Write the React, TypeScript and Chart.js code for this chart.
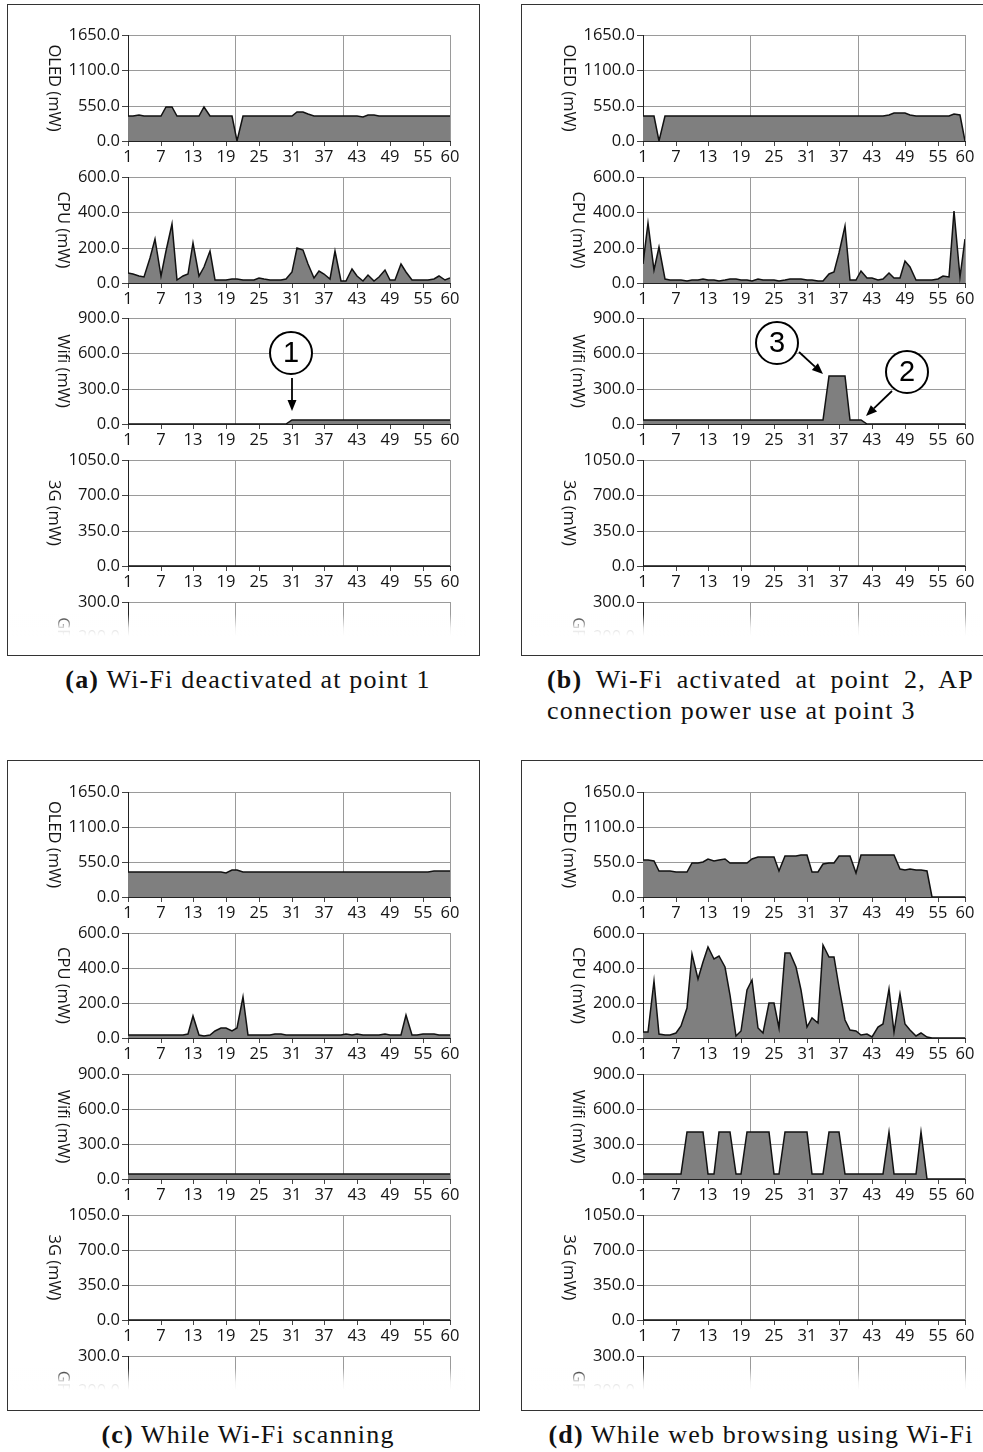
import React, { useEffect, useRef } from 'react';
import { Chart, registerables } from 'chart.js';

Chart.register(...registerables);

// ---------- data ----------
const X_TICKS = [1, 7, 13, 19, 25, 31, 37, 43, 49, 55, 60];
const X_GRID_THIRDS = [1, 2, 3];

const OLED_MAX = 1650;
const CPU_MAX = 600;
const WIFI_MAX = 900;
const G3_MAX = 1050;
const GPS_MAX = 300;

const oledA = [390, 395, 405, 390, 385, 385, 390, 530, 530, 390, 390, 390, 390, 390, 530, 390, 390, 390, 390, 390, 0, 390, 395, 390, 390, 390, 390, 390, 390, 390, 390, 450, 450, 415, 390, 390, 385, 385, 390, 390, 390, 390, 390, 380, 410, 410, 395, 390, 390, 390, 385, 390, 390, 390, 390, 390, 390, 390, 390, 390];
const cpuA = [59, 49, 42, 36, 140, 247, 38, 180, 332, 15, 42, 53, 224, 38, 91, 182, 19, 19, 15, 25, 21, 17, 15, 19, 28, 21, 15, 19, 19, 23, 63, 196, 186, 110, 30, 68, 49, 25, 182, 11, 11, 80, 42, 11, 47, 11, 34, 76, 15, 15, 106, 63, 19, 15, 19, 19, 23, 38, 19, 30];
const wifiA = [0, 0, 0, 0, 0, 0, 0, 0, 0, 0, 0, 0, 0, 0, 0, 0, 0, 0, 0, 0, 0, 0, 0, 0, 0, 0, 0, 0, 0, 0, 38, 38, 38, 38, 38, 38, 38, 38, 38, 38, 38, 38, 38, 38, 38, 38, 38, 38, 38, 38, 38, 38, 38, 38, 38, 38, 38, 38, 38, 38];

const oledB = [390, 390, 390, 0, 390, 390, 390, 390, 390, 390, 390, 390, 390, 390, 390, 390, 390, 390, 390, 390, 390, 390, 390, 390, 390, 390, 390, 390, 390, 390, 390, 390, 390, 385, 390, 390, 390, 388, 390, 388, 390, 390, 390, 392, 395, 400, 437, 437, 437, 400, 390, 388, 390, 390, 390, 390, 390, 420, 410, 0];
const cpuB = [110, 338, 76, 205, 25, 19, 15, 15, 13, 15, 19, 23, 19, 15, 13, 19, 25, 21, 15, 17, 13, 23, 19, 19, 17, 13, 17, 23, 21, 25, 19, 15, 13, 11, 49, 63, 167, 325, 19, 19, 68, 28, 28, 19, 23, 59, 30, 30, 125, 91, 19, 19, 19, 19, 21, 38, 34, 410, 34, 247];
const wifiB = [38, 38, 38, 38, 38, 38, 38, 38, 38, 38, 38, 38, 38, 38, 38, 38, 38, 38, 38, 38, 38, 38, 38, 38, 38, 38, 38, 38, 38, 38, 38, 38, 38, 38, 405, 405, 405, 405, 38, 38, 38, 0, 0, 0, 0, 0, 0, 0, 0, 0, 0, 0, 0, 0, 0, 0, 0, 0, 0, 0];

const oledC = [390, 390, 390, 390, 390, 390, 390, 390, 390, 390, 390, 390, 390, 390, 390, 392, 392, 392, 378, 432, 432, 398, 392, 392, 394, 392, 390, 390, 392, 392, 390, 392, 392, 392, 392, 394, 394, 394, 394, 395, 395, 395, 395, 395, 395, 395, 395, 392, 395, 395, 395, 395, 395, 395, 395, 400, 402, 402, 402, 402];
const cpuC = [19, 17, 20, 19, 18, 20, 17, 19, 18, 20, 19, 23, 123, 17, 9, 17, 38, 55, 59, 38, 55, 237, 17, 19, 17, 19, 19, 21, 25, 19, 17, 17, 19, 17, 17, 19, 17, 17, 17, 17, 25, 19, 21, 19, 19, 19, 19, 23, 19, 17, 17, 132, 19, 19, 21, 21, 23, 19, 17, 15];
const wifiC = [40, 40, 40, 40, 40, 40, 40, 40, 40, 40, 40, 40, 40, 40, 40, 40, 40, 40, 40, 40, 40, 40, 40, 40, 40, 40, 40, 40, 40, 40, 40, 40, 40, 40, 40, 40, 40, 40, 40, 40, 40, 40, 40, 40, 40, 40, 40, 40, 40, 40, 40, 40, 40, 40, 40, 40, 40, 40, 40, 40];

const oledD = [576, 576, 571, 409, 409, 409, 398, 398, 398, 540, 540, 550, 597, 566, 576, 597, 529, 529, 529, 529, 597, 634, 634, 634, 634, 403, 650, 650, 645, 665, 665, 388, 388, 524, 534, 534, 645, 645, 645, 377, 655, 655, 655, 655, 655, 655, 660, 440, 430, 445, 424, 424, 403, 0, 0, 0, 0, 0, 0, 0];
const cpuD = [34, 34, 327, 23, 19, 19, 28, 66, 170, 479, 337, 435, 520, 454, 468, 407, 246, 13, 38, 274, 331, 57, 28, 199, 199, 55, 483, 486, 407, 274, 62, 114, 85, 530, 464, 464, 293, 104, 47, 42, 19, 25, 6, 61, 78, 278, 32, 250, 81, 47, 13, 28, 6, 0, 0, 0, 0, 0, 0, 0];
const wifiD = [40, 40, 40, 40, 40, 40, 40, 40, 405, 405, 405, 405, 40, 40, 405, 405, 405, 40, 40, 405, 405, 405, 405, 405, 40, 40, 405, 405, 405, 405, 405, 40, 40, 40, 405, 405, 405, 40, 40, 40, 40, 40, 40, 40, 40, 405, 40, 40, 40, 40, 40, 405, 0, 0, 0, 0, 0, 0, 0, 0];

const g3All = [0, 0, 0, 0, 0, 0, 0, 0, 0, 0, 0, 0, 0, 0, 0, 0, 0, 0, 0, 0, 0, 0, 0, 0, 0, 0, 0, 0, 0, 0, 0, 0, 0, 0, 0, 0, 0, 0, 0, 0, 0, 0, 0, 0, 0, 0, 0, 0, 0, 0, 0, 0, 0, 0, 0, 0, 0, 0, 0, 0];
const gpsAll = [0, 0, 0, 0, 0, 0, 0, 0, 0, 0, 0, 0, 0, 0, 0, 0, 0, 0, 0, 0, 0, 0, 0, 0, 0, 0, 0, 0, 0, 0, 0, 0, 0, 0, 0, 0, 0, 0, 0, 0, 0, 0, 0, 0, 0, 0, 0, 0, 0, 0, 0, 0, 0, 0, 0, 0, 0, 0, 0, 0];

// annotations (data units of the Wi-Fi charts)
const annA = [
  { type: 'circle', x: 30.8, y: 603, label: '1' },
  { type: 'arrow', x1: 31, y1: 390, x2: 31, y2: 107 },
];
const annB = [
  { type: 'circle', x: 25.6, y: 690, label: '3' },
  { type: 'arrow', x1: 29.5, y1: 609, x2: 34.0, y2: 425 },
  { type: 'circle', x: 49.3, y: 444, label: '2' },
  { type: 'arrow', x1: 46.6, y1: 283, x2: 41.8, y2: 68 },
];

// ---------- layout ----------
const FONT = '"Open Sans", "Noto Sans", sans-serif';
const FONT_SIZE = 16.5;
const AXIS_W = 120;
const PLOT_W = 322;
const PAD_R = 16;
const PAD_T = 12;
const XAXIS_H = 26;
const CANVAS_W = AXIS_W + PLOT_W + PAD_R;

const sideTitlePlugin = {
  id: 'sideTitle',
  afterDraw(chart: any, _a: any, opts: any) {
    const { ctx, chartArea } = chart;
    const ys = chart.scales.y;
    ctx.save();
    ctx.font = `${FONT_SIZE}px ${FONT}`;
    let maxW = 0;
    for (const t of ys.ticks) maxW = Math.max(maxW, ctx.measureText(String(t.label)).width);
    const cx = chartArea.left - 6 - 2 - maxW - 15;
    const cy = (chartArea.top + chartArea.bottom) / 2;
    ctx.translate(cx, cy);
    ctx.rotate(Math.PI / 2);
    ctx.textAlign = 'center';
    ctx.textBaseline = 'middle';
    ctx.fillStyle = '#151515';
    ctx.fillText(opts.text || '', 0, 0);
    ctx.restore();
  },
};

const annotPlugin = {
  id: 'annot',
  afterDatasetsDraw(chart: any, _a: any, opts: any) {
    const items = (opts && opts.items) || [];
    if (!items.length) return;
    const { ctx } = chart;
    const xs = chart.scales.x;
    const ys = chart.scales.y;
    ctx.save();
    for (const it of items) {
      if (it.type === 'arrow') {
        const x1 = xs.getPixelForValue(it.x1), y1 = ys.getPixelForValue(it.y1);
        const x2 = xs.getPixelForValue(it.x2), y2 = ys.getPixelForValue(it.y2);
        const ang = Math.atan2(y2 - y1, x2 - x1);
        const hl = 11, hw = 4.5;
        const bx = x2 - hl * Math.cos(ang), by = y2 - hl * Math.sin(ang);
        ctx.strokeStyle = '#000';
        ctx.lineWidth = 1.8;
        ctx.beginPath();
        ctx.moveTo(x1, y1);
        ctx.lineTo(bx, by);
        ctx.stroke();
        ctx.fillStyle = '#000';
        ctx.beginPath();
        ctx.moveTo(x2, y2);
        ctx.lineTo(bx + hw * Math.sin(ang), by - hw * Math.cos(ang));
        ctx.lineTo(bx - hw * Math.sin(ang), by + hw * Math.cos(ang));
        ctx.closePath();
        ctx.fill();
      } else {
        const cx = xs.getPixelForValue(it.x), cy = ys.getPixelForValue(it.y);
        ctx.beginPath();
        ctx.arc(cx, cy, 21, 0, Math.PI * 2);
        ctx.fillStyle = '#fff';
        ctx.fill();
        ctx.lineWidth = 2;
        ctx.strokeStyle = '#000';
        ctx.stroke();
        ctx.fillStyle = '#000';
        ctx.font = '29px "Liberation Sans", Arial, sans-serif';
        ctx.textAlign = 'center';
        ctx.textBaseline = 'middle';
        ctx.fillText(it.label, cx, cy + 1);
      }
    }
    ctx.restore();
  },
};

function SubChart(props: { values: number[]; max: number; title: string; ann?: any[]; plotH: number }) {
  const ref = useRef<HTMLCanvasElement>(null);
  const { values, max, title, ann, plotH } = props;
  useEffect(() => {
    const tickFont = { family: FONT, size: FONT_SIZE };
    const chart = new Chart(ref.current as HTMLCanvasElement, {
      type: 'line',
      data: {
        datasets: [
          {
            data: values.map((v, i) => ({ x: i + 1, y: v })),
            borderColor: '#111',
            borderWidth: 1.5,
            backgroundColor: '#7f7f7f',
            fill: 'origin',
            pointRadius: 0,
            tension: 0,
          },
        ],
      },
      options: {
        animation: false,
        responsive: true,
        maintainAspectRatio: false,
        events: [],
        layout: { padding: { top: PAD_T, right: PAD_R, left: 0, bottom: 0 } },
        plugins: {
          legend: { display: false },
          tooltip: { enabled: false },
          sideTitle: { text: title },
          annot: { items: ann || [] },
        } as any,
        scales: {
          x: {
            type: 'linear',
            min: 1,
            max: 60,
            position: 'bottom',
            alignToPixels: true,
            afterBuildTicks: (s: any) => {
              s.ticks = X_TICKS.map((v) => ({ value: v }));
            },
            afterFit: (s: any) => {
              s.height = XAXIS_H;
            },
            ticks: {
              autoSkip: false,
              maxRotation: 0,
              padding: 1,
              color: '#151515',
              font: tickFont,
              callback: (v: any) => String(v),
            },
            grid: { drawOnChartArea: false, drawTicks: true, tickLength: 5, tickColor: '#444' },
            border: { display: true, color: '#222', width: 1 },
          },
          x2: {
            type: 'linear',
            min: 0,
            max: 3,
            position: 'top',
            alignToPixels: true,
            afterBuildTicks: (s: any) => {
              s.ticks = X_GRID_THIRDS.map((v) => ({ value: v }));
            },
            afterFit: (s: any) => {
              s.height = 0;
            },
            ticks: { display: false },
            grid: { color: '#9a9a9a', drawTicks: false, lineWidth: 1 },
            border: { display: false },
          },
          y: {
            min: 0,
            max: max,
            alignToPixels: true,
            afterBuildTicks: (s: any) => {
              s.ticks = [0, max / 3, (2 * max) / 3, max].map((v) => ({ value: v }));
            },
            afterFit: (s: any) => {
              s.width = AXIS_W;
            },
            ticks: {
              padding: 2,
              color: '#151515',
              font: tickFont,
              callback: (v: any) => Number(v).toFixed(1),
            },
            grid: { color: '#9a9a9a', tickColor: '#444', tickLength: 6 },
            border: { color: '#222', width: 1 },
          },
        } as any,
      },
      plugins: [sideTitlePlugin, annotPlugin],
    } as any);
    return () => chart.destroy();
  }, []);
  return (
    <div style={{ position: 'relative', width: CANVAS_W, height: PAD_T + plotH + XAXIS_H }}>
      <canvas ref={ref} />
    </div>
  );
}

type PanelSpec = {
  left: number;
  rows: number[];
  plotH: number;
  oled: number[];
  cpu: number[];
  wifi: number[];
  ann?: any[];
};

const PANELS: PanelSpec[] = [
  { left: 8, rows: [35, 177, 318, 460, 602], plotH: 106, oled: oledA, cpu: cpuA, wifi: wifiA, ann: annA },
  { left: 523, rows: [35, 177, 318, 460, 602], plotH: 106, oled: oledB, cpu: cpuB, wifi: wifiB, ann: annB },
  { left: 8, rows: [792, 933, 1074, 1215, 1356], plotH: 105, oled: oledC, cpu: cpuC, wifi: wifiC },
  { left: 523, rows: [792, 933, 1074, 1215, 1356], plotH: 105, oled: oledD, cpu: cpuD, wifi: wifiD },
];

function Panel({ p }: { p: PanelSpec }) {
  const specs = [
    { values: p.oled, max: OLED_MAX, title: 'OLED (mW)', ann: undefined as any },
    { values: p.cpu, max: CPU_MAX, title: 'CPU (mW)', ann: undefined as any },
    { values: p.wifi, max: WIFI_MAX, title: 'Wifi (mW)', ann: p.ann },
    { values: g3All, max: G3_MAX, title: '3G (mW)', ann: undefined as any },
  ];
  const h = PAD_T + p.plotH + XAXIS_H;
  return (
    <>
      {specs.map((s, k) => (
        <div key={k} style={{ position: 'absolute', left: p.left, top: p.rows[k] - PAD_T, width: CANVAS_W, height: h }}>
          <SubChart values={s.values} max={s.max} title={s.title} ann={s.ann} plotH={p.plotH} />
        </div>
      ))}
      <div
        style={{
          position: 'absolute',
          left: p.left,
          top: p.rows[4] - PAD_T,
          width: CANVAS_W,
          height: 46,
          overflow: 'hidden',
        }}
      >
        <SubChart values={gpsAll} max={GPS_MAX} title="GPS (mW)" plotH={p.plotH} />
        <div
          style={{
            position: 'absolute',
            left: 0,
            top: 0,
            width: '100%',
            height: '100%',
            background:
              'linear-gradient(to bottom, rgba(255,255,255,0) 0px, rgba(255,255,255,0) 24px, rgba(255,255,255,0.85) 38px, #fff 46px)',
          }}
        />
      </div>
    </>
  );
}

const boxStyle = (left: number, top: number, width: number, height: number): React.CSSProperties => ({
  position: 'absolute',
  left,
  top,
  width,
  height,
  border: '1.5px solid #333',
  boxSizing: 'border-box',
});

const capStyle: React.CSSProperties = {
  position: 'absolute',
  fontFamily: '"Liberation Serif", "Times New Roman", serif',
  fontSize: 26,
  letterSpacing: 1.2,
  lineHeight: '31px',
  color: '#111',
  whiteSpace: 'nowrap',
};

export default function App() {
  return (
    <div style={{ position: 'absolute', left: 0, top: 0, width: 983, height: 1452, overflow: 'hidden', background: '#fff' }}>
      <div style={boxStyle(7, 4, 473, 652)} />
      <div style={boxStyle(521, 4, 480, 652)} />
      <div style={boxStyle(7, 760, 473, 651)} />
      <div style={boxStyle(521, 760, 480, 651)} />
      {PANELS.map((p, i) => (
        <Panel key={i} p={p} />
      ))}
      <div style={{ ...capStyle, left: 32, width: 432, top: 664, textAlign: 'center' }}>
        <b>(a)</b> Wi-Fi deactivated at point 1
      </div>
      <div style={{ ...capStyle, left: 547, width: 427, top: 664, textAlign: 'justify', textAlignLast: 'justify' }}>
        <b>(b)</b> Wi-Fi activated at point 2, AP
      </div>
      <div style={{ ...capStyle, left: 547, width: 427, top: 695, textAlign: 'left' }}>connection power use at point 3</div>
      <div style={{ ...capStyle, left: 32, width: 432, top: 1419, textAlign: 'center' }}>
        <b>(c)</b> While Wi-Fi scanning
      </div>
      <div style={{ ...capStyle, left: 547, width: 428, top: 1419, textAlign: 'center' }}>
        <b>(d)</b> While web browsing using Wi-Fi
      </div>
    </div>
  );
}
